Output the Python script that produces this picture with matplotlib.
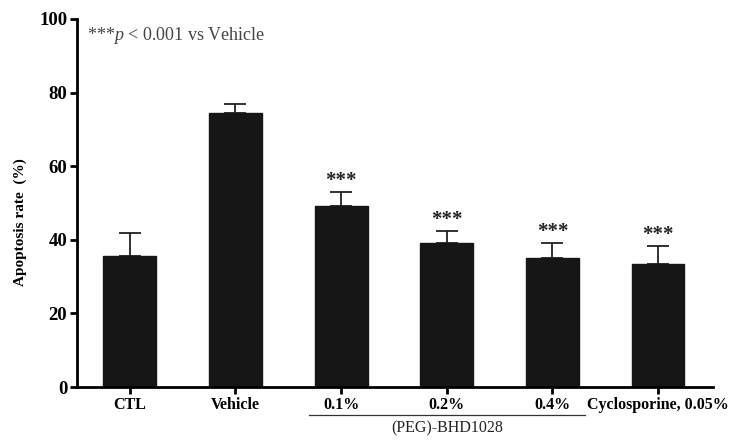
import numpy as np
import matplotlib.pyplot as plt
import matplotlib

matplotlib.rc("font", family=["Liberation Serif", "DejaVu Serif"])
matplotlib.rcParams['mathtext.fontset'] = 'custom'
matplotlib.rcParams['mathtext.rm'] = 'Liberation Serif'
matplotlib.rcParams['mathtext.it'] = 'Liberation Serif:italic'

groups = ['CTL', 'Vehicle', '0.1%', '0.2%', '0.4%', 'Cyclosporine, 0.05%']
rate = [35.7, 74.5, 49.3, 39.2, 35.0, 33.4]
sem = [6.2, 2.3, 3.6, 3.2, 4.1, 4.9]
signif = ['', '', '***', '***', '***', '***']

x = np.arange(len(groups))

fig = plt.figure(figsize=(7.29, 4.41), dpi=100)
ax = fig.add_axes([0.1056, 0.1224, 0.8724, 0.8346])

ax.bar(x, rate, width=0.5, color='#161616', edgecolor='#161616', zorder=2)
ax.errorbar(x, rate, yerr=[np.zeros(len(sem)), sem], fmt='none', ecolor='#222222',
            elinewidth=1.3, capsize=8, capthick=1.3, zorder=1)
for xi, r, s, t in zip(x, rate, sem, signif):
    if t:
        ax.text(xi, r + s + 0.3, t, ha='center', va='bottom', fontsize=15,
                fontweight='bold', color='#222222')

ax.set_xlim(-0.5, 5.52)
ax.set_ylim(0, 100)
ax.set_yticks([0, 20, 40, 60, 80, 100])
ax.set_xticks(x)
ax.set_xticklabels(groups, fontsize=11.5, fontweight='bold')
for lbl in ax.get_yticklabels():
    lbl.set_fontsize(13.5)
    lbl.set_fontweight('bold')
ax.set_ylabel('Apoptosis rate  (%)', fontsize=11, fontweight='bold')
ax.yaxis.set_label_coords(-0.079, 0.448)

for side in ['top', 'right']:
    ax.spines[side].set_visible(False)
for side in ['left', 'bottom']:
    ax.spines[side].set_linewidth(2)
ax.tick_params(width=2, length=5, pad=2)

ax.text(0.016, 0.955, r'***$\mathit{p}$ < 0.001 vs Vehicle', transform=ax.transAxes,
        fontsize=13, color='#444444', va='center', ha='left')

# bracket under the (PEG)-BHD1028 doses
ax.plot([1.70, 4.31], [-7.6, -7.6], color='#333333', lw=0.9, clip_on=False)
ax.text(3.0, -9.0, '(PEG)-BHD1028', ha='center', va='top', fontsize=11.5,
        color='#222222')

fig.savefig('out.png', dpi=100)
